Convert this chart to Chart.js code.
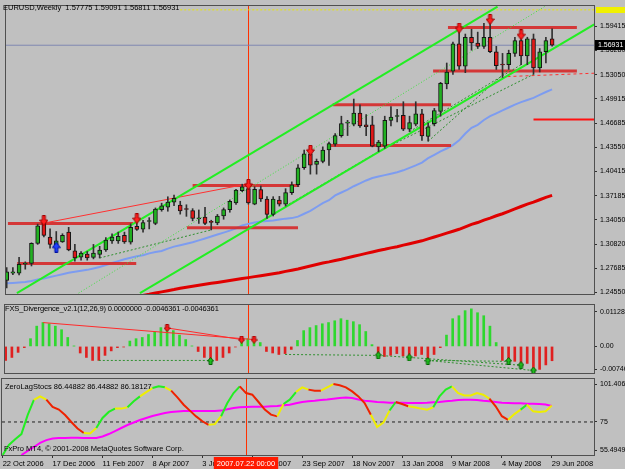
<!DOCTYPE html>
<html>
<head>
<meta charset="utf-8">
<title>EURUSD Weekly</title>
<script src="https://cdn.jsdelivr.net/npm/chart.js@4.4.1/dist/chart.umd.min.js"></script>
<style>
  html, body { margin: 0; padding: 0; background: #c0c0c0; }
  #wrap { position: relative; width: 625px; height: 469px; overflow: hidden; background: #c0c0c0; }
  #wrap canvas { position: absolute; left: 0; }
  .lbl { position: absolute; font-family: 'Liberation Sans', Arial, sans-serif; font-size: 7.5px; line-height: 9px; color: #000; white-space: pre; }
</style>
</head>
<body>
<div id="wrap">
  <canvas id="priceChart" width="625" height="300" style="top:0;width:625px;height:300px"></canvas>
  <canvas id="macdChart" width="625" height="78" style="top:300px;width:625px;height:78px"></canvas>
  <canvas id="stochChart" width="625" height="91" style="top:378px;width:625px;height:91px"></canvas>
  <div class="lbl" style="left:3px;top:3px">EURUSD,Weekly  1.57775 1.59091 1.56811 1.56931</div>
  <div class="lbl" style="left:5px;top:304px;letter-spacing:-0.15px">FXS_Divergence_v2.1(12,26,9) 0.0000000 -0.0046361 -0.0046361</div>
  <div class="lbl" style="left:5px;top:382px">ZeroLagStocs 86.44882 86.44882 86.18127</div>
  <div class="lbl" style="left:4px;top:444px">FxPro MT4, © 2001-2008 MetaQuotes Software Corp.</div>
</div>
<script>
// weekly bars, index 0 = 22 Oct 2006
const tickWeeks = [0, 8, 16, 24, 32, 40, 48, 56, 64, 72, 80, 88];
const tickDates = ['22 Oct 2006', '17 Dec 2006', '11 Feb 2007', '8 Apr 2007', '3 Jun 2007', '29 Jul 2007',
  '23 Sep 2007', '18 Nov 2007', '13 Jan 2008', '9 Mar 2008', '4 May 2008', '29 Jun 2008'];
const markWeek = 39;
const markLabel = '2007.07.22 00:00';

const opens = [1.2607, 1.2704, 1.2704, 1.2820, 1.2831, 1.3093, 1.3367, 1.3177, 1.3076, 1.3114,
  1.3241, 1.2996, 1.2914, 1.2953, 1.2910, 1.2949, 1.3008, 1.3127, 1.3127, 1.3198,
  1.3110, 1.3317, 1.3279, 1.3380, 1.3355, 1.3536, 1.3570, 1.3634, 1.3596, 1.3545,
  1.3524, 1.3414, 1.3439, 1.3382, 1.3363, 1.3452, 1.3536, 1.3625, 1.3785, 1.3811,
  1.3608, 1.3799, 1.3676, 1.3473, 1.3662, 1.3608, 1.3760, 1.3862, 1.4086, 1.4268,
  1.4128, 1.4170, 1.4318, 1.4394, 1.4508, 1.4672, 1.4657, 1.4804, 1.4648, 1.4648,
  1.4360, 1.4369, 1.4708, 1.4758, 1.4774, 1.4593, 1.4657, 1.4792, 1.4496, 1.4665,
  1.4826, 1.5185, 1.5354, 1.5713, 1.5418, 1.5798, 1.5722, 1.5679, 1.5798, 1.5608,
  1.5438, 1.5438, 1.5586, 1.5755, 1.5552, 1.5777, 1.5396, 1.5608, 1.57775];
const highs = [1.2776, 1.2776, 1.2911, 1.2851, 1.3101, 1.3346, 1.3439, 1.3283, 1.3249, 1.3220,
  1.3304, 1.3080, 1.2987, 1.2987, 1.3080, 1.3055, 1.3169, 1.3220, 1.3241, 1.3241,
  1.3350, 1.3367, 1.3397, 1.3431, 1.3558, 1.3621, 1.3705, 1.3726, 1.3646, 1.3600,
  1.3549, 1.3532, 1.3566, 1.3397, 1.3473, 1.3558, 1.3663, 1.3802, 1.3870, 1.3920,
  1.3836, 1.3846, 1.3706, 1.3706, 1.3710, 1.3811, 1.3900, 1.4128, 1.4318, 1.4360,
  1.4200, 1.4360, 1.4424, 1.4534, 1.4762, 1.4708, 1.4987, 1.4911, 1.4784, 1.4762,
  1.4445, 1.4762, 1.4889, 1.4851, 1.4952, 1.4762, 1.4952, 1.4851, 1.4674, 1.4864,
  1.5206, 1.5460, 1.5735, 1.5865, 1.5840, 1.5903, 1.5865, 1.5980, 1.6010, 1.5679,
  1.5586, 1.5628, 1.5798, 1.5849, 1.5798, 1.5840, 1.5650, 1.5798, 1.59091];
const lows = [1.2509, 1.2683, 1.2679, 1.2755, 1.2797, 1.3080, 1.3177, 1.3029, 1.3051, 1.3106,
  1.2996, 1.2860, 1.2873, 1.2873, 1.2890, 1.2902, 1.2987, 1.3093, 1.3093, 1.3093,
  1.3084, 1.3262, 1.3241, 1.3283, 1.3338, 1.3515, 1.3515, 1.3587, 1.3477, 1.3448,
  1.3389, 1.3355, 1.3338, 1.3270, 1.3338, 1.3410, 1.3502, 1.3604, 1.3772, 1.3608,
  1.3600, 1.3643, 1.3420, 1.3453, 1.3583, 1.3583, 1.3735, 1.3837, 1.4065, 1.4002,
  1.4002, 1.4150, 1.4115, 1.4369, 1.4487, 1.4508, 1.4635, 1.4614, 1.4508, 1.4360,
  1.4297, 1.4340, 1.4635, 1.4686, 1.4572, 1.4560, 1.4635, 1.4445, 1.4433, 1.4635,
  1.4762, 1.5121, 1.5311, 1.5375, 1.5333, 1.5628, 1.5650, 1.5650, 1.5595, 1.5375,
  1.5270, 1.5375, 1.5545, 1.5438, 1.5438, 1.5311, 1.5342, 1.5460, 1.56811];
const closes = [1.2721, 1.2721, 1.2818, 1.2830, 1.3093, 1.3325, 1.3198, 1.3080, 1.3127, 1.3198,
  1.3008, 1.2902, 1.2965, 1.2902, 1.2965, 1.3004, 1.3135, 1.3177, 1.3186, 1.3114,
  1.3304, 1.3275, 1.3367, 1.3386, 1.3545, 1.3587, 1.3634, 1.3684, 1.3520, 1.3538,
  1.3422, 1.3420, 1.3355, 1.3367, 1.3452, 1.3536, 1.3646, 1.3793, 1.3836, 1.3625,
  1.3802, 1.3676, 1.3473, 1.3676, 1.3608, 1.3760, 1.3862, 1.4086, 1.4268, 1.4119,
  1.4170, 1.4318, 1.4403, 1.4508, 1.4665, 1.4682, 1.4804, 1.4635, 1.4623, 1.4369,
  1.4424, 1.4708, 1.4750, 1.4766, 1.4593, 1.4677, 1.4792, 1.4503, 1.4623, 1.4835,
  1.5193, 1.5342, 1.5713, 1.5418, 1.5798, 1.5722, 1.5679, 1.5798, 1.5608, 1.5425,
  1.5434, 1.5586, 1.5755, 1.5552, 1.5777, 1.5396, 1.5608, 1.5755, 1.56931];

const blueMA = [1.2569, 1.2575, 1.2581, 1.2588, 1.2600, 1.2619, 1.2632, 1.2651, 1.2670, 1.2689,
  1.2708, 1.2721, 1.2733, 1.2746, 1.2765, 1.2784, 1.2810, 1.2835, 1.2860, 1.2886,
  1.2905, 1.2924, 1.2937, 1.2962, 1.2981, 1.2994, 1.3025, 1.3051, 1.3070, 1.3089,
  1.3108, 1.3133, 1.3158, 1.3184, 1.3209, 1.3235, 1.3260, 1.3291, 1.3329, 1.3349,
  1.3368, 1.3380, 1.3387, 1.3393, 1.3406, 1.3418, 1.3425, 1.3444, 1.3482, 1.3520,
  1.3571, 1.3621, 1.3659, 1.3723, 1.3761, 1.3799, 1.3843, 1.3881, 1.3919, 1.3951,
  1.3970, 1.3989, 1.4008, 1.4027, 1.4052, 1.4084, 1.4116, 1.4154, 1.4211, 1.4255,
  1.4300, 1.4338, 1.4382, 1.4445, 1.4534, 1.4610, 1.4648, 1.4712, 1.4762, 1.4800,
  1.4838, 1.4876, 1.4914, 1.4946, 1.4974, 1.5003, 1.5041, 1.5079, 1.5113];
const redMA = [null, null, null, null, null, null, null, null, null, null,
  null, null, null, null, null, null, null, null, null, null,
  null, null, 1.2410, 1.2425, 1.2442, 1.2457, 1.2473, 1.2488, 1.2505, 1.2518,
  1.2530, 1.2543, 1.2556, 1.2569, 1.2581, 1.2594, 1.2606, 1.2619, 1.2632, 1.2644,
  1.2657, 1.2670, 1.2682, 1.2695, 1.2707, 1.2726, 1.2742, 1.2758, 1.2777, 1.2797,
  1.2816, 1.2835, 1.2851, 1.2869, 1.2886, 1.2905, 1.2924, 1.2943, 1.2962, 1.2981,
  1.3000, 1.3016, 1.3034, 1.3050, 1.3070, 1.3089, 1.3108, 1.3127, 1.3152, 1.3177,
  1.3202, 1.3228, 1.3253, 1.3278, 1.3310, 1.3342, 1.3367, 1.3399, 1.3424, 1.3456,
  1.3482, 1.3513, 1.3545, 1.3577, 1.3609, 1.3634, 1.3666, 1.3698, 1.3723];

// support / resistance boxes
const levelPrice = [1.5925, 1.5354, 1.4911, 1.4376, 1.3853, 1.3300, 1.3354, 1.2831];
const levelFrom = [71.2, 68.8, 52.6, 52.0, 30.0, 29.1, 0.2, 1.7];
const levelTo = [92.0, 92.0, 71.7, 71.7, 47.2, 47.0, 20.4, 20.9];

// [week0, price0, week1, price1]
const channelLines = [[1.65, 1.2441, 79.2, 1.6200], [21.5, 1.2441, 94.8, 1.5967]];
const channelMid = [11.6, 1.2441, 87.2, 1.6221];
const redTrend = [6.5, 1.3367, 39, 1.3875];
const redDashed = [80.8, 1.5282, 94.8, 1.5326];
const redStub = [85, 1.4720, 94.8, 1.4720];
const yellowLine = [28, 1.6157, 94.8, 1.6157];
const priceDivLines = [[15, 1.2902, 33, 1.3270], [45, 1.3583, 60, 1.4297], [60, 1.4297, 85, 1.5311],
  [65, 1.4560, 83, 1.5438], [68, 1.4433, 81, 1.5375]];

const downArrowWeeks = [6, 21, 39, 49, 73, 78, 83];
const downArrowPrices = [1.3392, 1.3418, 1.3868, 1.4315, 1.5919, 1.6030, 1.5830];
const upArrowWeeks = [8];
const upArrowPrices = [1.3044];

const priceTicks = [1.24550, 1.27685, 1.30820, 1.34050, 1.37185, 1.40415, 1.43550, 1.46685, 1.49915, 1.53050, 1.56280, 1.59415];

// FXS divergence histogram
const macdHist = [-0.00454, -0.00357, -0.00193, -0.00039, 0.00251, 0.00657, 0.00773, 0.00734, 0.00657, 0.00541,
  0.00290, 0.00010, -0.00213, -0.00357, -0.00454, -0.00454, -0.00290, -0.00145, -0.00039, -0.00020,
  0.00174, 0.00251, 0.00290, 0.00386, 0.00464, 0.00609, 0.00676, 0.00512, 0.00367, 0.00222,
  0.00010, -0.00164, -0.00357, -0.00454, -0.00454, -0.00357, -0.00213, -0.00020, 0.00193, 0.00251,
  0.00174, 0.00126, -0.00164, -0.00213, -0.00261, -0.00232, -0.00097, 0.00193, 0.00512, 0.00609,
  0.00676, 0.00734, 0.00773, 0.00831, 0.00898, 0.00850, 0.00802, 0.00705, 0.00483, 0.00058,
  -0.00357, -0.00328, -0.00290, -0.00232, -0.00309, -0.00406, -0.00309, -0.00261, -0.00454, -0.00261,
  -0.00039, 0.00367, 0.00898, 0.00995, 0.01159, 0.01217, 0.01092, 0.00995, 0.00657, 0.00126,
  -0.00454, -0.00502, -0.00483, -0.00647, -0.00551, -0.00840, -0.00744, -0.00599, -0.00464];
const macdTicks = [-0.00746, 0, 0.011288];
const macdTickLabels = ['-0.00746', '0.00', '0.011288'];
const macdRedLines = [[6, 0.00773, 40, 0.00222], [26, 0.00599, 38, 0.00222]];
const macdGreenLines = [[15, -0.00454, 33, -0.00454], [45, -0.00261, 60, -0.0029], [60, -0.0029, 65, -0.00357],
  [65, -0.00357, 83, -0.00609], [68, -0.00454, 81, -0.00483], [68, -0.00454, 85, -0.0078]];
const macdDownWeeks = [26, 38, 40];
const macdDownValues = [0.00599, 0.00222, 0.00222];
const macdUpWeeks = [33, 60, 65, 68, 81, 83, 85];
const macdUpValues = [-0.00473, -0.0029, -0.00357, -0.00473, -0.00473, -0.00609, -0.00782];

// ZeroLag stochastic
const stochMain = [52, 59, 63, 66.6, 79.8, 90.3, 92.8, 90.5, 85.5, 83.6,
  79.8, 75.0, 70.5, 67.3, 67.0, 70.8, 77.8, 82.0, 84.3, 84.3,
  85.2, 89.4, 92.8, 95.8, 98.6, 99.8, 99.1, 96.8, 92.1, 87.0,
  82.9, 78.9, 75.5, 73.0, 73.5, 79.0, 88.2, 95.1, 99.8, 95.1,
  94.0, 88.9, 83.6, 80.1, 78.9, 87.5, 90.5, 95.8, 99.1, 97.5,
  96.8, 96.8, 99.1, 101.4, 100.5, 99.1, 96.3, 92.8, 88.2, 80.0,
  71.5, 74.5, 83.0, 88.9, 87.5, 85.9, 85.2, 84.3, 83.6, 85.2,
  92.8, 97.5, 99.8, 95.1, 93.5, 93.5, 95.1, 94.0, 91.2, 85.9,
  79.0, 76.5, 80.5, 83.6, 87.0, 82.4, 81.9, 82.4, 86.45];
const stochSignal = [null, null, null, 52.0, 54.8, 57.6, 60.4, 62.4, 63.5, 63.8,
  63.9, 64.0, 64.0, 63.9, 63.8, 63.8, 64.9, 66.6, 68.7, 70.8,
  72.9, 74.6, 76.4, 77.8, 79.2, 80.2, 81.2, 81.9, 82.3, 82.6,
  82.6, 82.6, 82.6, 82.6, 82.6, 82.9, 83.8, 84.7, 85.2, 85.4,
  85.6, 85.6, 85.6, 85.9, 86.1, 86.6, 87.0, 88.0, 88.9, 89.4,
  89.8, 90.3, 90.7, 91.2, 91.7, 92.1, 91.7, 90.7, 89.8, 89.4,
  88.9, 88.7, 88.4, 88.4, 88.4, 88.2, 88.2, 88.2, 88.4, 88.7,
  88.9, 89.4, 89.8, 90.3, 90.5, 90.5, 90.3, 89.8, 89.4, 88.9,
  88.4, 88.2, 88.0, 88.0, 87.7, 87.7, 87.5, 87.2, 86.18];
// colour of each segment: g rising, r falling, y turning
const stochTrend = 'gggggyyrrrrrryygggyyggyyggyrrrrrryygggrrrrrrygg' + 'yyrryyrrrrrryyygrryyyygggyyyyyyrrryygyyyy';
const stochTicks = [55.49493, 75, 101.4067];
const stochTickLabels = ['55.49493', '75', '101.4067'];

const xMin = -0.11, xMax = 94.76;

Chart.defaults.font.family = "'Liberation Sans', Arial, sans-serif";
Chart.defaults.font.size = 7.5;
Chart.defaults.color = '#000';

function seg(l) { return [{ x: l[0], y: l[1] }, { x: l[2], y: l[3] }]; }
function lineSet(data, color, width, dash, order) {
  return { type: 'line', data: data, borderColor: color, borderWidth: width, borderDash: dash || [],
    pointRadius: 0, pointHoverRadius: 0, fill: false, tension: 0, spanGaps: false, order: order };
}

function makeArrow(fill, edge, down, w, h) {
  const c = document.createElement('canvas');
  c.width = w; c.height = h;
  const g = c.getContext('2d');
  const head = Math.round(h * 0.5);
  g.fillStyle = fill; g.strokeStyle = edge; g.lineWidth = 1;
  g.beginPath();
  if (down) {
    g.moveTo(w / 2 - 1.5, 0.5); g.lineTo(w / 2 + 1.5, 0.5); g.lineTo(w / 2 + 1.5, h - head);
    g.lineTo(w - 0.5, h - head); g.lineTo(w / 2, h - 0.5); g.lineTo(0.5, h - head); g.lineTo(w / 2 - 1.5, h - head);
  } else {
    g.moveTo(w / 2 - 1.5, h - 0.5); g.lineTo(w / 2 + 1.5, h - 0.5); g.lineTo(w / 2 + 1.5, head);
    g.lineTo(w - 0.5, head); g.lineTo(w / 2, 0.5); g.lineTo(0.5, head); g.lineTo(w / 2 - 1.5, head);
  }
  g.closePath(); g.fill(); g.stroke();
  return c;
}
const redDown = makeArrow('#ff2020', '#a00000', true, 9, 11);
const blueUp = makeArrow('#2040ff', '#0010a0', false, 9, 11);
const smallRedDown = makeArrow('#ff2020', '#a00000', true, 7, 8);
const smallGreenUp = makeArrow('#20c020', '#006000', false, 7, 8);

function axes(yMin, yMax, yTicks, yLabels, showX) {
  return {
    x: {
      type: 'linear', min: xMin, max: xMax, offset: false, display: showX,
      afterBuildTicks: s => { s.ticks = tickWeeks.map(v => ({ value: v })); },
      afterFit: s => { s.height = showX ? 14 : 0; s.paddingLeft = 0; s.paddingRight = 0; },
      ticks: { autoSkip: false, maxRotation: 0, minRotation: 0, align: 'start', padding: 1,
        callback: (v, i) => tickDates[i], font: { size: 7.5 } },
      grid: { drawOnChartArea: false, drawTicks: true, tickLength: 3, color: '#303030' },
      border: { display: false }
    },
    y: {
      type: 'linear', position: 'right', min: yMin, max: yMax,
      afterBuildTicks: s => { s.ticks = yTicks.map(v => ({ value: v })); },
      afterFit: s => { s.width = 31; s.paddingTop = 0; s.paddingBottom = 0; },
      ticks: { autoSkip: false, padding: 3, callback: (v, i) => yLabels[i], font: { size: 7 } },
      grid: { drawOnChartArea: false, drawTicks: true, tickLength: 3, color: '#303030' },
      border: { display: false }
    }
  };
}

const panelFrame = {
  id: 'panelFrame',
  beforeDatasetsDraw(chart) {
    const { ctx, chartArea: a, scales } = chart;
    const mx = Math.round(scales.x.getPixelForValue(markWeek)) + 0.5;
    ctx.save();
    ctx.strokeStyle = '#ff3000'; ctx.lineWidth = 1;
    ctx.beginPath(); ctx.moveTo(mx, a.top); ctx.lineTo(mx, a.bottom); ctx.stroke();
    ctx.restore();
  },
  afterDraw(chart) {
    const { ctx, chartArea: a } = chart;
    ctx.save();
    ctx.strokeStyle = '#505050'; ctx.lineWidth = 1;
    ctx.strokeRect(a.left - 0.5, a.top - 0.5, a.right - a.left + 1, a.bottom - a.top + 1);
    ctx.restore();
  }
};

const priceTags = {
  id: 'priceTags',
  afterDraw(chart) {
    const { ctx, chartArea: a, scales } = chart;
    const last = closes[closes.length - 1];
    ctx.save();
    let y = Math.round(scales.y.getPixelForValue(last));
    ctx.fillStyle = '#000';
    ctx.fillRect(a.right + 1, y - 5, 31, 10);
    ctx.fillStyle = '#fff';
    ctx.font = "7px 'Liberation Sans', Arial, sans-serif";
    ctx.textBaseline = 'middle';
    ctx.fillText(last.toFixed(5), a.right + 4, y + 0.5);
    y = Math.round(scales.y.getPixelForValue(yellowLine[1]));
    ctx.fillStyle = '#f0f000';
    ctx.fillRect(a.right + 2, y - 3, 30, 6);
    ctx.restore();
  }
};

const timeTag = {
  id: 'timeTag',
  afterDraw(chart) {
    const { ctx, chartArea: a, scales } = chart;
    const mx = Math.round(scales.x.getPixelForValue(markWeek));
    ctx.save();
    ctx.font = "7.5px 'Liberation Sans', Arial, sans-serif";
    const w = ctx.measureText(markLabel).width + 6;
    ctx.fillStyle = '#ff1a00';
    ctx.fillRect(mx - w / 2, a.bottom + 2, w, 12);
    ctx.fillStyle = '#fff';
    ctx.textBaseline = 'middle';
    ctx.fillText(markLabel, mx - w / 2 + 3, a.bottom + 8.5);
    ctx.restore();
  }
};

const common = { responsive: false, animation: false, devicePixelRatio: 1,
  plugins: { legend: { display: false }, tooltip: { enabled: false } }, events: [] };

// ---- price panel ----
const weeks = closes.map((c, i) => i);
const priceSets = [];
priceSets.push(lineSet(redMA.map((v, i) => ({ x: i, y: v })), '#e00000', 3, [], 9));
priceSets.push(lineSet(blueMA.map((v, i) => ({ x: i, y: v })), '#7d9cf0', 2, [], 9));
levelPrice.forEach((p, k) => priceSets.push(lineSet(seg([levelFrom[k], p, levelTo[k], p]), 'rgba(214,40,40,0.9)', 3, [], 8)));
channelLines.forEach(l => priceSets.push(lineSet(seg(l), '#22ee22', 2, [], 7)));
priceSets.push(lineSet(seg(channelMid), '#3de03d', 1, [1, 2], 7));
priceDivLines.forEach(l => priceSets.push(lineSet(seg(l), '#2f8f2f', 1, [2, 2], 7)));
priceSets.push(lineSet(seg(redTrend), '#ff3030', 1, [], 7));
priceSets.push(lineSet(seg(redDashed), '#ff3030', 1, [3, 3], 7));
priceSets.push(lineSet(seg(redStub), '#ff1010', 2, [], 7));
priceSets.push(lineSet(seg(yellowLine), '#e8e800', 1, [2, 2], 7));
priceSets.push(lineSet(seg([xMin, closes[closes.length - 1], xMax, closes[closes.length - 1]]), 'rgba(120,130,175,0.9)', 1, [], 7));
priceSets.push({ type: 'bar', data: weeks.map(i => ({ x: i, y: [lows[i], highs[i]] })),
  backgroundColor: '#303030', barThickness: 1, grouped: false, order: 6 });
priceSets.push({ type: 'bar', data: weeks.filter(i => closes[i] >= opens[i]).map(i => ({ x: i, y: [opens[i], closes[i]] })),
  backgroundColor: '#22b022', borderColor: '#151515', borderWidth: 1, borderSkipped: false,
  barThickness: 4, minBarLength: 1, grouped: false, order: 5 });
priceSets.push({ type: 'bar', data: weeks.filter(i => closes[i] < opens[i]).map(i => ({ x: i, y: [opens[i], closes[i]] })),
  backgroundColor: '#e01818', borderColor: '#151515', borderWidth: 1, borderSkipped: false,
  barThickness: 4, minBarLength: 1, grouped: false, order: 5 });
priceSets.push({ type: 'line', showLine: false, data: downArrowWeeks.map((w, k) => ({ x: w, y: downArrowPrices[k] })),
  pointStyle: redDown, pointRadius: 5, order: 1 });
priceSets.push({ type: 'line', showLine: false, data: upArrowWeeks.map((w, k) => ({ x: w, y: upArrowPrices[k] })),
  pointStyle: blueUp, pointRadius: 5, order: 1 });

new Chart(document.getElementById('priceChart'), {
  type: 'line',
  data: { datasets: priceSets },
  options: Object.assign({}, common, {
    layout: { padding: { left: 2, top: 1, right: 0, bottom: 1 } },
    scales: axes(1.24292, 1.62078, priceTicks, priceTicks.map(v => v.toFixed(5)), false)
  }),
  plugins: [panelFrame, priceTags]
});

// ---- divergence histogram panel ----
const macdSets = [];
macdSets.push({ type: 'bar', data: macdHist.map((v, i) => ({ x: i, y: v })),
  backgroundColor: c => (c.raw && c.raw.y >= 0 ? '#2ed82e' : '#e02020'),
  barThickness: 2, grouped: false, order: 5 });
macdRedLines.forEach(l => macdSets.push(lineSet(seg(l), '#ff2a2a', 1, [], 3)));
macdGreenLines.forEach(l => macdSets.push(lineSet(seg(l), '#2f8f2f', 1, [2, 2], 3)));
macdSets.push({ type: 'line', showLine: false, data: macdDownWeeks.map((w, k) => ({ x: w, y: macdDownValues[k] })),
  pointStyle: smallRedDown, pointRadius: 4, order: 1 });
macdSets.push({ type: 'line', showLine: false, data: macdUpWeeks.map((w, k) => ({ x: w, y: macdUpValues[k] })),
  pointStyle: smallGreenUp, pointRadius: 4, order: 1 });

new Chart(document.getElementById('macdChart'), {
  type: 'line',
  data: { datasets: macdSets },
  options: Object.assign({}, common, {
    layout: { padding: { left: 2, top: 1, right: 0, bottom: 1 } },
    scales: axes(-0.00861, 0.01342, macdTicks, macdTickLabels, false)
  }),
  plugins: [panelFrame]
});

// ---- stochastic panel ----
const trendColour = { g: '#22ee22', r: '#ee2200', y: '#eeee00' };
new Chart(document.getElementById('stochChart'), {
  type: 'line',
  data: {
    datasets: [
      lineSet([{ x: xMin, y: 75 }, { x: xMax, y: 75 }], '#202020', 1, [3, 3], 5),
      lineSet(stochSignal.map((v, i) => ({ x: i, y: v })), '#ff00ff', 2, [], 4),
      Object.assign(lineSet(stochMain.map((v, i) => ({ x: i, y: v })), '#22ee22', 2, [], 3), {
        segment: { borderColor: c => trendColour[stochTrend[c.p0DataIndex]] || '#eeee00' }
      })
    ]
  },
  options: Object.assign({}, common, {
    layout: { padding: { left: 2, top: 1, right: 0, bottom: 0 } },
    scales: axes(52.02, 104.9, stochTicks, stochTickLabels, true)
  }),
  plugins: [panelFrame, timeTag]
});
</script>
</body>
</html>
